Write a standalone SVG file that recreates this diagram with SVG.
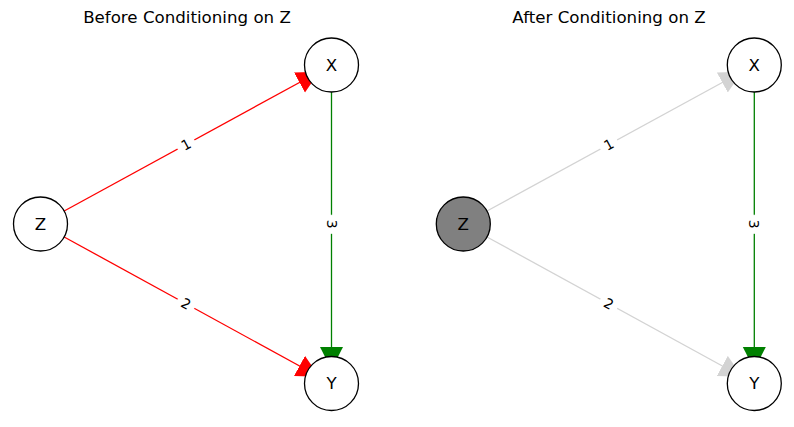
<svg xmlns="http://www.w3.org/2000/svg" width="794" height="427" viewBox="0 0 794 427">
<defs>
<style>
.title{font-family:"DejaVu Sans",sans-serif;font-size:16.67px;fill:#000;text-anchor:middle}
.nlab{font-family:"DejaVu Sans",sans-serif;font-size:16.67px;fill:#000;text-anchor:middle}
.elab{font-family:"DejaVu Sans",sans-serif;font-size:13.9px;fill:#000;text-anchor:middle}
.node{fill:#fff;stroke:#000;stroke-width:1.3}
.node.cond{fill:#808080}
.edge{fill:none;stroke-width:1.3}
.red{stroke:#ff0000}
.green{stroke:#008000}
.gray{stroke:#d3d3d3}
.lbox{fill:#fff;stroke:#fff}
</style>
<marker id="ahRed" markerUnits="userSpaceOnUse" markerWidth="24" markerHeight="24" refX="22.5" refY="11.5" orient="auto"><path d="M0,0 L22.5,11.5 L0,23 Z" fill="#ff0000"/></marker>
<marker id="ahGreen" markerUnits="userSpaceOnUse" markerWidth="24" markerHeight="24" refX="22.5" refY="11.5" orient="auto"><path d="M0,0 L22.5,11.5 L0,23 Z" fill="#008000"/></marker>
<marker id="ahGray" markerUnits="userSpaceOnUse" markerWidth="24" markerHeight="24" refX="22.5" refY="11.5" orient="auto"><path d="M0,0 L22.5,11.5 L0,23 Z" fill="#d3d3d3"/></marker>
</defs>
<rect width="794" height="427" fill="#fff"/>
<text class="title" x="187" y="23">Before Conditioning on Z</text>
<text class="title" x="609" y="23">After Conditioning on Z</text>
<g id="connectors">
<line class="edge red" x1="64.2" y1="211.05" x2="319.21" y2="71.71" marker-end="url(#ahRed)"/>
<line class="edge red" x1="64.18" y1="236.98" x2="319.22" y2="376.77" marker-end="url(#ahRed)"/>
<line class="edge green" x1="331.5" y1="92" x2="331.5" y2="369.5" marker-end="url(#ahGreen)"/>
<line class="edge gray" x1="487" y1="211.05" x2="742.01" y2="71.71" marker-end="url(#ahGray)"/>
<line class="edge gray" x1="486.98" y1="236.98" x2="742.02" y2="376.77" marker-end="url(#ahGray)"/>
<line class="edge green" x1="754.3" y1="92" x2="754.3" y2="369.5" marker-end="url(#ahGreen)"/>
<g transform="translate(186,144.5) rotate(-28.65)"><rect class="lbox" x="-9" y="-11" width="18" height="22" rx="4"/><text class="elab" x="0" y="5">1</text></g>
<g transform="translate(186,303.75) rotate(28.73)"><rect class="lbox" x="-9" y="-11" width="18" height="22" rx="4"/><text class="elab" x="0" y="5">2</text></g>
<g transform="translate(331.5,224.25) rotate(90)"><rect class="lbox" x="-9" y="-11" width="18" height="22" rx="4"/><text class="elab" x="0" y="5">3</text></g>
<g transform="translate(608.8,144.5) rotate(-28.65)"><rect class="lbox" x="-9" y="-11" width="18" height="22" rx="4"/><text class="elab" x="0" y="5">1</text></g>
<g transform="translate(608.8,303.75) rotate(28.73)"><rect class="lbox" x="-9" y="-11" width="18" height="22" rx="4"/><text class="elab" x="0" y="5">2</text></g>
<g transform="translate(754.3,224.25) rotate(90)"><rect class="lbox" x="-9" y="-11" width="18" height="22" rx="4"/><text class="elab" x="0" y="5">3</text></g>
</g>
<g id="node-Z-before"><circle class="node" cx="40.5" cy="224" r="27"/><text class="nlab" x="40.5" y="230">Z</text></g>
<g id="node-X-before"><circle class="node" cx="331.5" cy="65" r="27"/><text class="nlab" x="331.5" y="70.5">X</text></g>
<g id="node-Y-before"><circle class="node" cx="331.5" cy="383.5" r="27"/><text class="nlab" x="331.5" y="389">Y</text></g>
<g id="node-Z-after"><circle class="node cond" cx="463.3" cy="224" r="27"/><text class="nlab" x="463.3" y="230">Z</text></g>
<g id="node-X-after"><circle class="node" cx="754.3" cy="65" r="27"/><text class="nlab" x="754.3" y="70.5">X</text></g>
<g id="node-Y-after"><circle class="node" cx="754.3" cy="383.5" r="27"/><text class="nlab" x="754.3" y="389">Y</text></g>
</svg>
